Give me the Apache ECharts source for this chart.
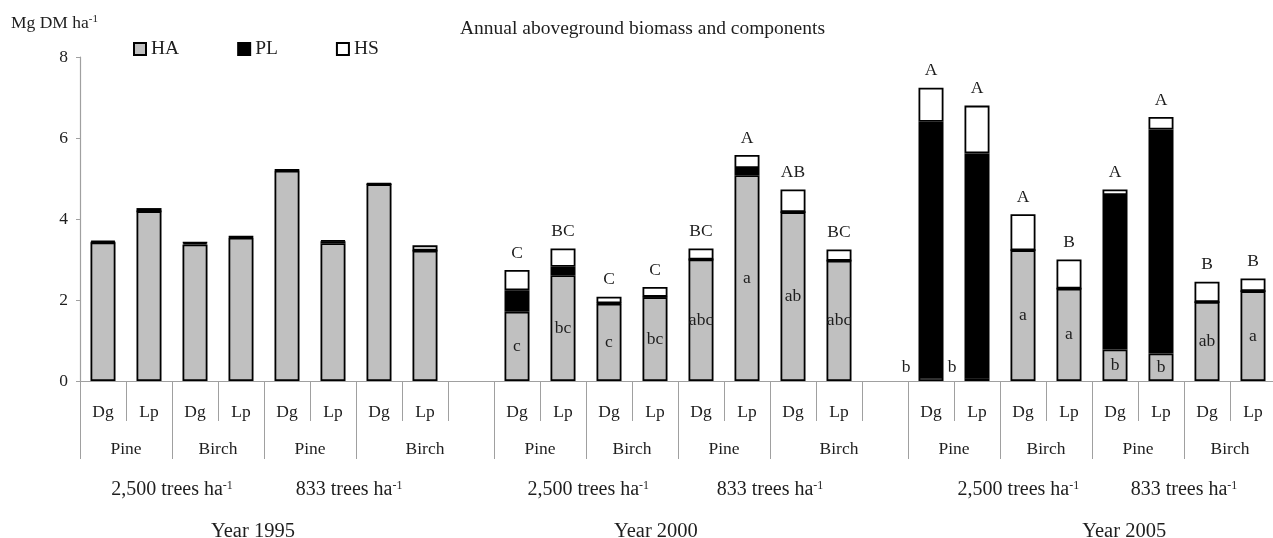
<!DOCTYPE html>
<html>
<head>
<meta charset="utf-8">
<script src="https://cdn.jsdelivr.net/npm/echarts@6/dist/echarts.min.js"></script>
<style>
  html, body { margin: 0; padding: 0; background: #fff; }
  #chart { width: 1273px; height: 538px; }
</style>
</head>
<body>
<div id="chart"></div>
<script>
const years = ['1995', '2000', '2005']
const densities = ['2,500', '833']
const species = ['Pine', 'Birch']
const treatments = ['Dg', 'Lp']

// 8 bars per year: 2,500 Pine Dg/Lp, Birch Dg/Lp, then 833 Pine Dg/Lp, Birch Dg/Lp
const ha1995 = [3.42, 4.19, 3.37, 3.54, 5.19, 3.40, 4.86, 3.22]
const pl1995 = [0.01, 0.00, 0.04, 0.02, 0.02, 0.05, 0.00, 0.00]
const hs1995 = [0.03, 0.08, 0.01, 0.01, 0.01, 0.02, 0.02, 0.13]

const ha2000 = [1.71, 2.61, 1.91, 2.07, 3.00, 5.08, 4.17, 2.97]
const pl2000 = [0.53, 0.21, 0.01, 0.01, 0.00, 0.18, 0.00, 0.00]
const hs2000 = [0.50, 0.45, 0.16, 0.24, 0.27, 0.32, 0.56, 0.28]

const ha2005 = [0.10, 0.07, 3.23, 2.28, 0.78, 0.68, 1.95, 2.22]
const pl2005 = [6.30, 5.55, 0.00, 0.00, 3.81, 5.53, 0.00, 0.00]
const hs2005 = [0.84, 1.18, 0.89, 0.72, 0.14, 0.31, 0.50, 0.31]

// significance letters (none given for 1995)
const lower1995 = ['', '', '', '', '', '', '', '']
const upper1995 = ['', '', '', '', '', '', '', '']
const lower2000 = ['c', 'bc', 'c', 'bc', 'abc', 'a', 'ab', 'abc']
const upper2000 = ['C', 'BC', 'C', 'C', 'BC', 'A', 'AB', 'BC']
const lower2005 = ['b', 'b', 'a', 'a', 'b', 'b', 'ab', 'a']
const upper2005 = ['A', 'A', 'A', 'B', 'A', 'A', 'B', 'B']

// layout of the lower label rows, in category units along the axis
const speciesBounds = [0, 2, 4, 6, 9, 11, 13, 15, 18, 20, 22, 24, 26]
const densityPos = [2, 5.85, 11.05, 15, 20.4, 24]
const yearPos = [3.76, 12.52, 22.7]

const FONT = '"Liberation Serif", "Times New Roman", serif'
const TXT = '#1e1e1e'
const AXIS = '#a0a0a0'

const haByYear = [ha1995, ha2000, ha2005]
const plByYear = [pl1995, pl2000, pl2005]
const hsByYear = [hs1995, hs2000, hs2005]
const lowerByYear = [lower1995, lower2000, lower2005]
const upperByYear = [upper1995, upper2000, upper2005]

const categories = []
const haData = [], plData = [], hsData = []
years.forEach((y, yi) => {
  let k = 0
  densities.forEach((d) => {
    species.forEach((s) => {
      treatments.forEach((t) => {
        categories.push([y, d, s, t].join('|'))
        const ha = haByYear[yi][k]
        const low = lowerByYear[yi][k]
        const haItem = { value: ha, lbl: low }
        if (low && ha < 0.3) {
          haItem.label = { position: 'left', distance: 8, offset: [0, -12] }
        }
        haData.push(haItem)
        plData.push({ value: plByYear[yi][k] })
        hsData.push({ value: hsByYear[yi][k], lbl: upperByYear[yi][k] })
        k++
      })
    })
  })
  if (yi < years.length - 1) {
    categories.push(y + '|blank')
    haData.push('-'); plData.push('-'); hsData.push('-')
  }
})

const speciesCenters = []
const speciesNames = []
for (let i = 0; i < speciesBounds.length - 1; i++) {
  speciesCenters.push((speciesBounds[i] + speciesBounds[i + 1]) / 2)
  speciesNames.push(species[i % 2])
}
const densityNames = []
years.forEach(() => densities.forEach((d) => densityNames.push(d + ' trees ha{sup|-1}')))
const yearNames = years.map((y) => 'Year ' + y)

const pick = (positions, names) => (v) => {
  const i = positions.findIndex((p) => Math.abs(p - v) < 1e-6)
  return i < 0 ? '' : names[i]
}

const supRich = (size) => ({
  sup: { fontFamily: FONT, fontSize: size, color: TXT, verticalAlign: 'top', lineHeight: 12 }
})

const bar = (name, color, data, label) => ({
  name,
  type: 'bar',
  stack: 'total',
  barWidth: 25,
  data,
  itemStyle: { color, borderColor: '#000', borderWidth: 1.8 },
  label,
  emphasis: { disabled: true },
  animation: false
})

const letterLabel = (position, distance) => ({
  show: true,
  position,
  distance,
  fontFamily: FONT,
  fontSize: 17.5,
  color: TXT,
  formatter: (p) => (p.data && p.data.lbl) || ''
})

const hiddenValueAxis = (positions, names, margin, fontSize, tick) => ({
  type: 'value',
  gridIndex: 0,
  position: 'bottom',
  min: 0,
  max: 26,
  axisLine: { show: false },
  splitLine: { show: false },
  axisTick: tick || { show: false },
  axisLabel: {
    customValues: positions,
    formatter: pick(positions, names),
    margin,
    fontFamily: FONT,
    fontSize,
    color: TXT,
    rich: supRich(Math.round(fontSize * 0.6))
  }
})

const chart = echarts.init(document.getElementById('chart'))
chart.setOption({
  backgroundColor: '#fff',
  animation: false,
  title: [
    {
      text: 'Annual aboveground biomass and components',
      left: 460, top: 19, padding: 0,
      textStyle: { fontFamily: FONT, fontSize: 19.5, fontWeight: 'normal', color: TXT }
    },
    {
      text: 'Mg DM ha{sup|-1}',
      left: 11, top: 14, padding: 0,
      textStyle: { fontFamily: FONT, fontSize: 17.5, fontWeight: 'normal', color: TXT, rich: supRich(11) }
    }
  ],
  legend: {
    left: 133, top: 39, padding: 0,
    itemWidth: 12, itemHeight: 12, itemGap: 58,
    icon: 'rect',
    textStyle: { fontFamily: FONT, fontSize: 19.5, color: TXT },
    data: ['HA', 'PL', 'HS']
  },
  grid: { left: 80, top: 57, width: 1196, height: 324, outerBoundsMode: 'none', containLabel: false },
  xAxis: [
    {
      type: 'category',
      data: categories,
      axisLine: { lineStyle: { color: AXIS, width: 1.2 } },
      axisTick: { show: true, interval: 0, length: 40, lineStyle: { color: AXIS, width: 1 } },
      axisLabel: {
        interval: 0, margin: 22,
        fontFamily: FONT, fontSize: 17.5, color: TXT,
        formatter: (v) => v.split('|')[3] || ''
      }
    },
    hiddenValueAxis(speciesCenters, speciesNames, 59, 17.5, {
      show: true, customValues: speciesBounds, length: 78, lineStyle: { color: AXIS, width: 1 }
    }),
    hiddenValueAxis(densityPos, densityNames, 99, 20),
    hiddenValueAxis(yearPos, yearNames, 140, 20.5)
  ],
  yAxis: {
    type: 'value',
    min: 0, max: 8, interval: 2,
    axisLine: { show: true, lineStyle: { color: AXIS, width: 1.2 } },
    axisTick: { show: true, length: 4, lineStyle: { color: AXIS } },
    splitLine: { show: false },
    axisLabel: { margin: 12, fontFamily: FONT, fontSize: 17.5, color: TXT }
  },
  series: [
    bar('HA', '#c0c0c0', haData, letterLabel('inside', 5)),
    bar('PL', '#000000', plData, { show: false }),
    bar('HS', '#ffffff', hsData, letterLabel('top', 8))
  ]
})
</script>
</body>
</html>
